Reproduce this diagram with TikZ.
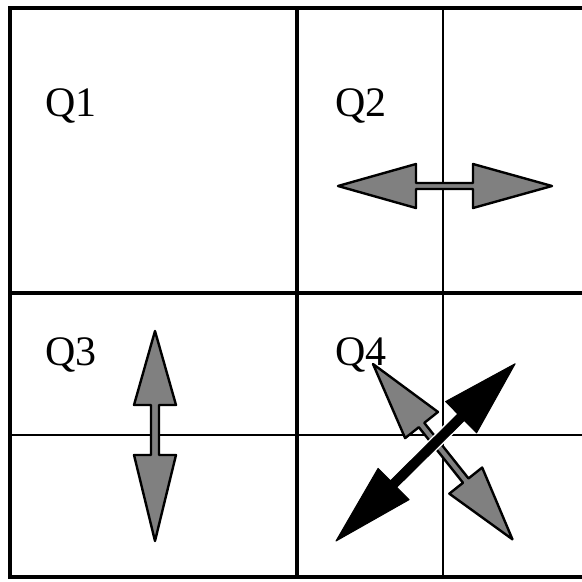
\documentclass[tikz,border=0pt]{standalone}
\usepackage{fontspec}
\setmainfont{Liberation Serif}
\begin{document}
\begin{tikzpicture}[x=1pt,y=-1pt,
  thickline/.style={line width=3.5pt},
  thinline/.style={line width=1.6pt},
  grayarrow/.style={fill=black!50,draw=black,line width=2.4pt,line join=round},
  blackarrow/.style={fill=black,draw=black,line width=1pt,line join=round},
  qlabel/.style={anchor=base west,inner sep=0pt,font=\fontsize{42}{44}\selectfont}]
\useasboundingbox (0,0) rectangle (582,582);
\fill[white] (0,0) rectangle (582,582);
% grid
\draw[thinline] (443,8) -- (443,577);
\draw[thinline] (10,435) -- (582,435);
\draw[thickline] (297,8) -- (297,577);
\draw[thickline] (10,293) -- (582,293);
\draw[thickline,line cap=rect] (582,8) -- (10,8) -- (10,577) -- (582,577);
% labels
\node[qlabel] (q1) at (45,116) {Q1};
\node[qlabel] (q2) at (335,116) {Q2};
\node[qlabel] (q3) at (45,365) {Q3};
\node[qlabel] (q4) at (335,365) {Q4};
% Q2 horizontal arrow
\begin{scope}[shift={(338,186)}]
\draw[grayarrow] (0,0) -- (78,22) -- (78,3) -- (135,3) -- (135,22) -- (214,0)
  -- (135,-22) -- (135,-3) -- (78,-3) -- (78,-22) -- cycle;
\end{scope}
% Q3 vertical arrow
\begin{scope}[shift={(155,331)},rotate=-90]
\draw[grayarrow] (0,0) -- (74,21) -- (74,4) -- (124,4) -- (124,21) -- (210,0)
  -- (124,-21) -- (124,-4) -- (74,-4) -- (74,-21) -- cycle;
\end{scope}
% Q4 gray diagonal arrow
\begin{scope}[shift={(373,364)},rotate=-51.5]
\draw[grayarrow] (0,0) -- (78,21) -- (78,3.5) -- (149,3.5) -- (149,21) -- (224,0)
  -- (149,-21) -- (149,-3.5) -- (78,-3.5) -- (78,-21) -- cycle;
\end{scope}
% Q4 black diagonal arrow
\begin{scope}[shift={(336,541)},rotate=44.7]
\draw[white,line width=3pt] (81,5) -- (176,5) (81,-5) -- (176,-5);
\draw[blackarrow] (0,0) -- (81,22) -- (81,4.5) -- (176,4.5) -- (176,22) -- (252,0)
  -- (176,-22) -- (176,-4.5) -- (81,-4.5) -- (81,-22) -- cycle;
\end{scope}
\end{tikzpicture}
\end{document}
